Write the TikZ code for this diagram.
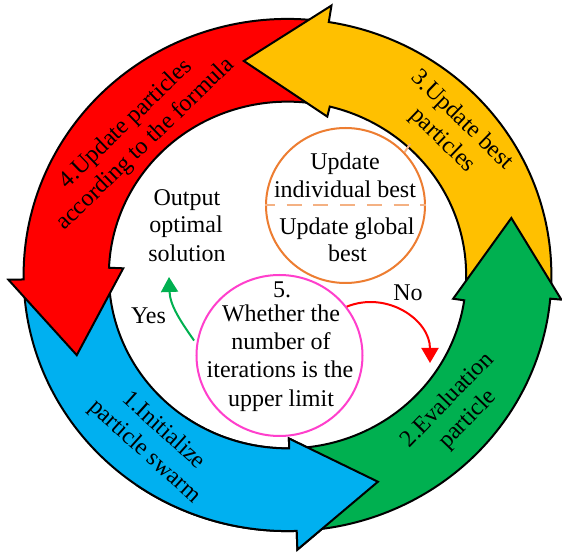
\documentclass[tikz,border=0pt]{standalone}
\usepackage{fontspec}
\setmainfont{Liberation Serif}
\usetikzlibrary{arrows.meta,shapes.geometric}
\definecolor{cblue}{HTML}{00B0F0}
\definecolor{cgreen}{HTML}{00B050}
\definecolor{cyellow}{HTML}{FFC000}
\definecolor{cred}{HTML}{FF0000}
\definecolor{corange}{HTML}{ED7D31}
\definecolor{clorange}{HTML}{F4B183}
\definecolor{cpink}{HTML}{FF3FCC}
\tikzset{
  ringarrow/.style={draw=black, line width=2pt, line join=miter},
  txt/.style={font=\fontsize{24}{28}\selectfont, inner sep=0pt, anchor=base},
  blocktxt/.style={font=\fontsize{24}{28}\selectfont, inner sep=0pt, align=center},
  ringcircle/.style={ellipse, line width=2pt, inner sep=0pt},
  flowarrow/.style={line width=2pt, -{Triangle[length=15pt,width=17pt]}},
}
% #1 colour, #2 tail outer, #3 tail inner, #4 back outer, #5 back inner,
% #6 shoulder outer radius, #7 shoulder inner radius, #8 tip angle, #9 tip radius
\newcommand\arcarrow[9]{%
  \path[ringarrow, fill=#1]
    plot[domain=#2:#4, samples=70] (\x:260)
    -- (#4:#6) -- (#8:#9) -- (#5:#7)
    -- plot[domain=#5:#3, samples=70] (\x:176)
    -- cycle;
}
\begin{document}
\begin{tikzpicture}[x=1.015pt, y=0.985pt]
\useasboundingbox (-287.5pt,-278pt) rectangle (274.5pt,275pt);
\fill[white] (-287.5pt,-278pt) rectangle (274.5pt,275pt);

% ring arrows
\arcarrow{cblue}{184.5}{181}{272}{270.5}{279}{166}{293}{228}
\arcarrow{cred}{84}{79.5}{181}{177.6}{275}{162}{201.4}{223}
\arcarrow{cyellow}{-2.5}{-6}{81}{76.3}{277}{165.5}{101.2}{221.5}
\arcarrow{cgreen}{275}{273}{354.7}{351.6}{271}{165}{374.7}{228}
\begin{scope}
  \clip (0,0) -- (235:330) -- (270:345) -- (305:330) -- cycle;
  \arcarrow{cblue}{184.5}{181}{272}{270.5}{279}{166}{293}{228}
\end{scope}

% labels on the ring
\node[blocktxt, rotate=44]  (t4) at (-151.5pt,140.5pt) {4.Update particles\\according to the formula};
\node[blocktxt, rotate=-44] (t3) at (164.5pt,144.5pt) {3.Update best\\particles};
\node[blocktxt, rotate=46]  (t2) at (170.5pt,-135pt) {2.Evaluation\\particle};
\node[blocktxt, rotate=-42] (t1) at (-133.5pt,-166.5pt) {1.Initialize\\particle swarm};

% output text
\node[txt] (o1) at (-100.5pt,69pt) {Output};
\node[txt] (o2) at (-101.5pt,42pt) {optimal};
\node[txt] (o3) at (-100.5pt,13pt) {solution};

% orange circle
\node[ringcircle, draw=corange, minimum width=159pt, minimum height=155pt] (ob) at (58pt,69.5pt) {};
\draw[clorange, line width=2pt, dash pattern=on 15pt off 11.7pt, dash phase=5pt] (ob.west) -- (ob.east);
\coordinate (tick) at (122.5pt,131pt);
\draw[clorange, line width=2pt] (ob.42) -- (tick);
\node[txt] (u1) at (57.5pt,105pt) {Update};
\node[txt] (u2) at (57.5pt,77pt) {individual best};
\node[txt] (u3) at (59.5pt,40pt) {Update global};
\node[txt] (u4) at (60pt,13pt) {best};

% pink circle
\node[ringcircle, draw=cpink, minimum width=166pt, minimum height=161pt] (q) at (-8pt,-80.5pt) {};
\node[txt] (q1) at (-5.5pt,-23pt) {5.};
\node[txt] (q2) at (-6.5pt,-46.5pt) {Whether the};
\node[txt] (q3) at (-6.5pt,-75pt) {number of};
\node[txt] (q4) at (-7.5pt,-103pt) {iterations is the};
\node[txt] (q5) at (-6.5pt,-131.5pt) {upper limit};

% decision arrows
\coordinate (yesend) at (-118.5pt,-2pt);
\coordinate (noend) at (142.5pt,-88pt);
\draw[flowarrow, cgreen, shorten <=4pt] (q.172) to[out=125, in=-88] (yesend);
\draw[flowarrow, cred] (q.36) to[out=22, in=90, looseness=1.1] (noend);
\node[txt] (yes) at (-139pt,-49pt) {Yes};
\node[txt] (no) at (120.5pt,-26pt) {No};
\end{tikzpicture}
\end{document}
